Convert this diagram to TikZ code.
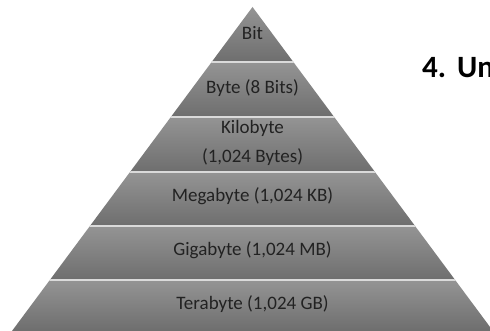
\documentclass[tikz,border=0pt]{standalone}
\usepackage{fontspec}
\setmainfont{Carlito}
\definecolor{bandtop}{HTML}{949494}
\definecolor{bandbot}{HTML}{6E6E6E}
\definecolor{sepcol}{HTML}{DADADA}
\definecolor{txtcol}{HTML}{222222}
\begin{document}
\begin{tikzpicture}[x=1pt,y=1pt,
  bandfill/.style={top color=bandtop,bottom color=bandbot},
  sepline/.style={draw=sepcol,line width=1.5pt},
  lbl/.style={anchor=base,inner sep=0pt,text=txtcol,font=\fontsize{19}{23}\selectfont},
  titlelbl/.style={anchor=base west,inner sep=0pt,text=black,font=\fontsize{31}{37}\selectfont\bfseries}]
\useasboundingbox (0,0) rectangle (490,331);
\fill[white] (0,0) rectangle (490,331);
\begin{scope}
  \clip (12,0) -- (252.5,324) -- (493,0) -- cycle;
  \foreach \a/\b in {0/51,51/105,105/159,159/214,214/269,269/324}
    \shade[bandfill] (0,\a) rectangle (490,\b);
  \foreach \y in {51,105,159,214,269}
    \draw[sepline] (0,\y) -- (490,\y);
\end{scope}
\node[lbl] (bit) at (252.5,291) {Bit};
\node[lbl] (byte) at (252.5,237) {Byte (8 Bits)};
\node[lbl] (kb1) at (252.5,197) {Kilobyte};
\node[lbl] (kb2) at (252.5,168) {(1,024 Bytes)};
\node[lbl] (mb) at (252.5,129) {Megabyte (1,024 KB)};
\node[lbl] (gb) at (252.5,75) {Gigabyte (1,024 MB)};
\node[lbl] (tb) at (252.5,21) {Terabyte (1,024 GB)};
\begin{scope}
  \clip (0,0) rectangle (490,331);
  \node[titlelbl] (title) at (422,253) {4.\hspace{11pt}Units};
\end{scope}
\end{tikzpicture}
\end{document}
